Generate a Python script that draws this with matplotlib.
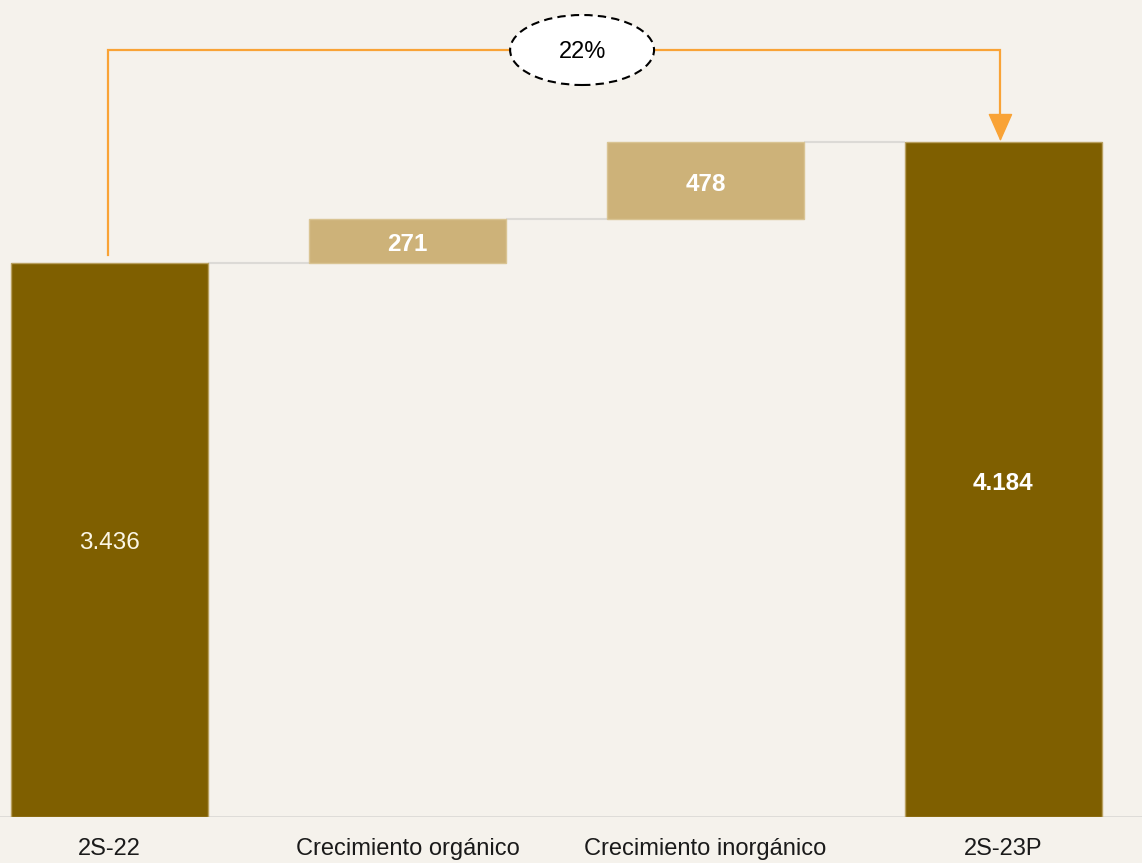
import matplotlib
matplotlib.use("Agg")
import matplotlib.pyplot as plt
from matplotlib.patches import Ellipse, FancyArrowPatch

categories = ["2S-22", "Crecimiento orgánico", "Crecimiento inorgánico", "2S-23P"]
values = [3436, 271, 478, 4184]
value_labels = ["3.436", "271", "478", "4.184"]
is_total = [True, False, False, True]
growth_label = "22%"

BG = "#f5f2ec"
DARK = "#7f5f00"
LIGHT = "#cdb279"
ORANGE = "#f9a336"
GRID = "#dcdad6"

fig = plt.figure(figsize=(11.42, 8.63), dpi=100, facecolor=BG)
ax = fig.add_axes([0, 46 / 863, 1, 1 - 46 / 863])
ax.set_facecolor(BG)

x = list(range(len(categories)))
width = 0.66
bottoms, tops = [], []
running = 0
for i, v in enumerate(values):
    if is_total[i]:
        b, t = 0, v
        running = v
    else:
        b, t = running, running + v
        running = t
    bottoms.append(b)
    tops.append(t)

for i in x:
    col = DARK if is_total[i] else LIGHT
    ec = "#b8a060" if is_total[i] else "#d9c493"
    ax.bar(i, tops[i] - bottoms[i], bottom=bottoms[i], width=width,
           color=col, edgecolor=ec, linewidth=1.0, zorder=3)
    mid = (tops[i] + bottoms[i]) / 2 - 22
    if i == 0:
        ax.text(i, mid, value_labels[i], ha="center", va="center", color="#fbf6e6",
                fontsize=17.5, family="Liberation Sans", zorder=5)
    else:
        ax.text(i, mid, value_labels[i], ha="center", va="center", color="white",
                fontsize=17.5, fontweight="bold", family="Liberation Sans", zorder=5)

# connector lines
for i in range(len(values) - 1):
    ax.plot([i + width / 2, i + 1 - width / 2], [tops[i], tops[i]],
            color=GRID, lw=1.5, zorder=2, solid_capstyle="butt")

# baseline
ax.axhline(0, color=GRID, lw=2, zorder=2)

ax.set_xlim(-0.3674, 3.465)
ax.set_ylim(0, 5065)
ax.axis("off")

# category labels
for i, c in enumerate(categories):
    ax.text(i, -200, c, ha="center", va="center", fontsize=17,
            family="Liberation Sans", color="#1a1a1a", clip_on=False)

# bracket arrow
top_y = 4755
x0, x1 = -0.005, 2.99
ax.plot([x0, x0, x1, x1], [tops[0] + 48, top_y, top_y, tops[3] + 100],
        color=ORANGE, lw=1.6, zorder=4, solid_joinstyle="miter")
arr = FancyArrowPatch((x1, tops[3] + 110), (x1, tops[3] + 5),
                      arrowstyle="-|>,head_length=0.95,head_width=0.42",
                      mutation_scale=19, color=ORANGE, lw=1.0, zorder=4,
                      shrinkA=0, shrinkB=0)
ax.add_patch(arr)

ell = Ellipse((1.586, top_y), 0.483, 434, facecolor="white", edgecolor="black",
              lw=1.5, linestyle=(0, (4, 2.5)), zorder=6)
ax.add_patch(ell)
ax.text(1.586, top_y - 10, growth_label, ha="center", va="center", fontsize=17,
        family="Liberation Sans", color="black", zorder=7)

fig.savefig("out.png", dpi=100, facecolor=BG)
